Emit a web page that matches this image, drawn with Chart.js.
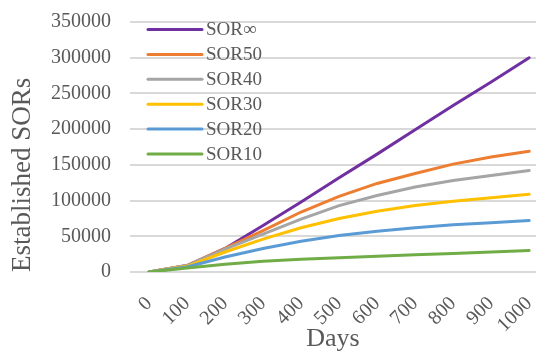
<!DOCTYPE html>
<html>
<head>
<meta charset="utf-8">
<script src="https://cdn.jsdelivr.net/npm/chart.js@4.4.0/dist/chart.umd.min.js"></script>
<style>
  html, body { margin: 0; padding: 0; background: #fff; }
  #wrap { width: 536px; height: 352px; }
</style>
</head>
<body>
<div id="wrap"><canvas id="sorChart" width="536" height="352"></canvas></div>
<script>
// data
const days = [0, 100, 200, 300, 400, 500, 600, 700, 800, 900, 1000];
const sorInf = [0, 9000, 33000, 65000, 98000, 132000, 165000, 199000, 233000, 266000, 300000];
const sor50 = [0, 9000, 33000, 58000, 84000, 106000, 124000, 138000, 151000, 161000, 169000];
const sor40 = [0, 9000, 32000, 53000, 74000, 93000, 107000, 119000, 128000, 135000, 142000];
const sor30 = [0, 8000, 28000, 46000, 62000, 75000, 85000, 93000, 99000, 104000, 109000];
const sor20 = [0, 7000, 21000, 33000, 43000, 51000, 57000, 62000, 66000, 69000, 72000];
const sor10 = [0, 5500, 11000, 15000, 18000, 20000, 22000, 24000, 26000, 28000, 30000];
const yTicks = [0, 50000, 100000, 150000, 200000, 250000, 300000, 350000];

const seriesNames = ["SOR\u221E", "SOR50", "SOR40", "SOR30", "SOR20", "SOR10"];
const seriesValues = [sorInf, sor50, sor40, sor30, sor20, sor10];
const seriesColors = ["#7030A0", "#ED7D31", "#A5A5A5", "#FFC000", "#5B9BD5", "#70AD47"];

const textColor = "#595959";
const fontFam = "'Liberation Serif', 'Times New Roman', serif";

// legend drawn inside the plot, top left
const insideLegend = {
    id: "insideLegend",
    afterDatasetsDraw(chart) {
        const ctx = chart.ctx;
        const area = chart.chartArea;
        ctx.save();
        ctx.font = "19px " + fontFam;
        ctx.textBaseline = "middle";
        ctx.textAlign = "left";
        chart.data.datasets.forEach((ds, i) => {
            const y = area.top + 7.5 + i * 24.9;
            const x0 = area.left + 18;
            ctx.strokeStyle = ds.borderColor;
            ctx.lineWidth = 3;
            ctx.lineCap = "round";
            ctx.beginPath();
            ctx.moveTo(x0, y);
            ctx.lineTo(x0 + 54, y);
            ctx.stroke();
            ctx.fillStyle = textColor;
            ctx.fillText(ds.label, x0 + 58, y + 1);
        });
        ctx.restore();
    }
};

const ctx = document.getElementById("sorChart").getContext("2d");
new Chart(ctx, {
    type: "line",
    data: {
        datasets: seriesNames.map((name, i) => ({
            label: name,
            data: days.map((d, j) => ({ x: d, y: seriesValues[i][j] })),
            borderColor: seriesColors[i],
            backgroundColor: seriesColors[i],
            borderWidth: 3,
            pointRadius: 0,
            fill: false,
            tension: 0,
            borderCapStyle: "round",
            order: seriesNames.length - i, // SOR10 ends up on top
        })),
    },
    plugins: [insideLegend],
    options: {
        responsive: false,
        animation: false,
        layout: { padding: { top: 22, right: 0, left: 0, bottom: 0 } },
        plugins: {
            legend: { display: false },
            tooltip: { enabled: false },
        },
        scales: {
            x: {
                type: "linear",
                min: -50,
                max: 1018,
                afterBuildTicks: (scale) => {
                    scale.ticks = days.map((v) => ({ value: v }));
                },
                afterFit: (scale) => {
                    scale.height = 80;
                    scale.paddingLeft = 0;
                    scale.paddingRight = 0;
                },
                grid: { display: false },
                border: { display: false },
                ticks: {
                    minRotation: 45,
                    maxRotation: 45,
                    padding: 12,
                    color: textColor,
                    font: { family: fontFam, size: 20 },
                    callback: (v) => String(v),
                },
                title: {
                    display: true,
                    text: "Days",
                    color: textColor,
                    font: { family: fontFam, size: 26, lineHeight: 1 },
                    padding: 0,
                },
            },
            y: {
                min: 0,
                max: 350000,
                afterBuildTicks: (scale) => {
                    scale.ticks = yTicks.map((v) => ({ value: v }));
                },
                afterFit: (scale) => {
                    scale.width = 130;
                    scale.paddingTop = 0;
                    scale.paddingBottom = 0;
                },
                grid: {
                    color: "#D9D9D9",
                    lineWidth: 2,
                    drawTicks: false,
                },
                border: { display: false },
                ticks: {
                    padding: 19,
                    color: textColor,
                    font: { family: fontFam, size: 20 },
                    callback: (v) => String(v),
                },
                title: {
                    display: true,
                    text: "Established SORs",
                    align: "start",
                    color: textColor,
                    font: { family: fontFam, size: 27, lineHeight: 1 },
                    padding: { top: 9, bottom: 0 },
                },
            },
        },
    },
});
</script>
</body>
</html>
